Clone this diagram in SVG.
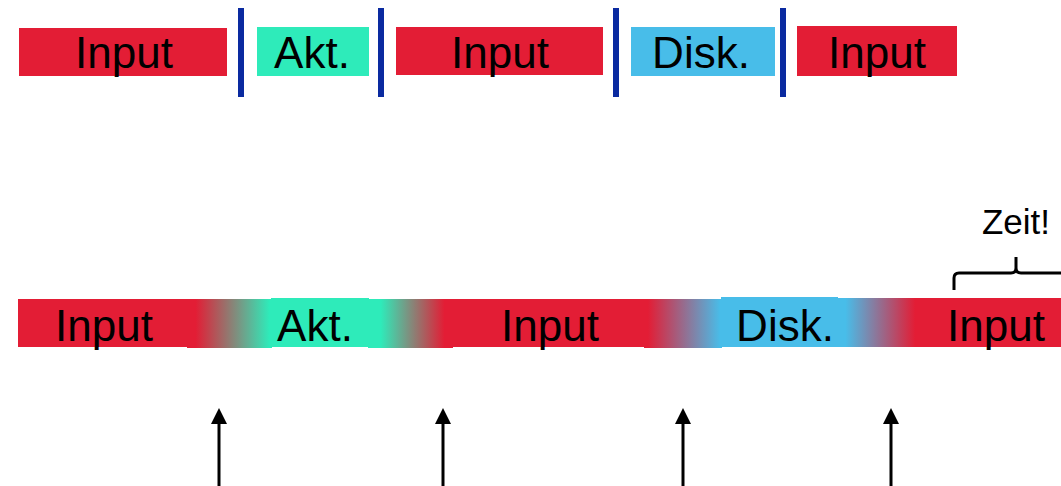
<svg xmlns="http://www.w3.org/2000/svg" width="1061" height="486" viewBox="0 0 1061 486">
<style>
.lbl{font-family:"Liberation Sans",Arial,sans-serif;font-size:44px;fill:#000;text-anchor:middle}
.zeit{font-family:"Liberation Sans",Arial,sans-serif;font-size:35px;fill:#000;text-anchor:middle}
.red{fill:#E31D35}
.grn{fill:#2EEBBA}
.blu{fill:#48BDE9}
.sep{fill:#0A2AA0}
.shaft{stroke:#000;stroke-width:3;fill:none}
.head{fill:#000}
</style>
<defs>
<linearGradient id="rg" x1="0" x2="1" y1="0" y2="0"><stop offset="0.1" stop-color="#E31D35"/><stop offset="0.97" stop-color="#2EEBBA"/></linearGradient>
<linearGradient id="gr" x1="0" x2="1" y1="0" y2="0"><stop offset="0.15" stop-color="#2EEBBA"/><stop offset="0.9" stop-color="#E31D35"/></linearGradient>
<linearGradient id="rb" x1="0" x2="1" y1="0" y2="0"><stop offset="0.05" stop-color="#E31D35"/><stop offset="0.98" stop-color="#48BDE9"/></linearGradient>
<linearGradient id="br" x1="0" x2="1" y1="0" y2="0"><stop offset="0.1" stop-color="#48BDE9"/><stop offset="0.92" stop-color="#E31D35"/></linearGradient>
</defs>

<g id="top-row">
<g id="top-input1"><rect class="red" x="19" y="28" width="208" height="48"/><text class="lbl" x="124" y="68">Input</text></g>
<rect id="sep1" class="sep" x="238" y="8" width="6" height="89"/>
<g id="top-akt"><rect class="grn" x="257" y="27" width="112" height="49"/><text class="lbl" x="312" y="68">Akt.</text></g>
<rect id="sep2" class="sep" x="378" y="8" width="6" height="89"/>
<g id="top-input2"><rect class="red" x="396" y="27" width="207" height="48"/><text class="lbl" x="500" y="68">Input</text></g>
<rect id="sep3" class="sep" x="613" y="8" width="6" height="89"/>
<g id="top-disk"><rect class="blu" x="631" y="27" width="144" height="49"/><text class="lbl" x="701" y="68">Disk.</text></g>
<rect id="sep4" class="sep" x="780" y="8" width="6" height="89"/>
<g id="top-input3"><rect class="red" x="797" y="26" width="160" height="50"/><text class="lbl" x="877" y="68">Input</text></g>
</g>

<g id="bottom-row">
<rect class="red" x="18" y="299" width="170" height="48"/>
<rect fill="url(#rg)" x="187" y="299" width="85" height="49"/>
<rect class="grn" x="271" y="298" width="98" height="49"/>
<rect fill="url(#gr)" x="368" y="299" width="85" height="49"/>
<rect class="red" x="452" y="299" width="193" height="48"/>
<rect fill="url(#rb)" x="644" y="299" width="78" height="49"/>
<rect class="blu" x="721" y="297" width="117" height="50"/>
<rect fill="url(#br)" x="837" y="298" width="85" height="49"/>
<rect class="red" x="921" y="298" width="140" height="49"/>
<g id="bot-input1"><text class="lbl" x="104" y="341">Input</text></g>
<g id="bot-akt"><text class="lbl" x="315" y="341">Akt.</text></g>
<g id="bot-input2"><text class="lbl" x="550" y="341">Input</text></g>
<g id="bot-disk"><text class="lbl" x="785" y="341">Disk.</text></g>
<g id="bot-input3"><text class="lbl" x="996" y="341">Input</text></g>
</g>

<g id="zeit">
<text class="zeit" x="1016" y="234">Zeit!</text>
<path class="shaft" stroke-width="2.5" d="M954,290 V278 Q954,273 959,273 H1011 Q1016,273 1016,268 V257 V268 Q1016,273 1021,273 H1073 Q1078,273 1078,278 V290"/>
</g>

<g id="connectors">
<line class="shaft" x1="219" y1="486" x2="219" y2="421"/><path class="head" d="M219,408 L227,424 L211,424 Z"/>
<line class="shaft" x1="443" y1="486" x2="443" y2="421"/><path class="head" d="M443,408 L451,424 L435,424 Z"/>
<line class="shaft" x1="683" y1="486" x2="683" y2="421"/><path class="head" d="M683,408 L691,424 L675,424 Z"/>
<line class="shaft" x1="891" y1="486" x2="891" y2="421"/><path class="head" d="M891,408 L899,424 L883,424 Z"/>
</g>
</svg>
